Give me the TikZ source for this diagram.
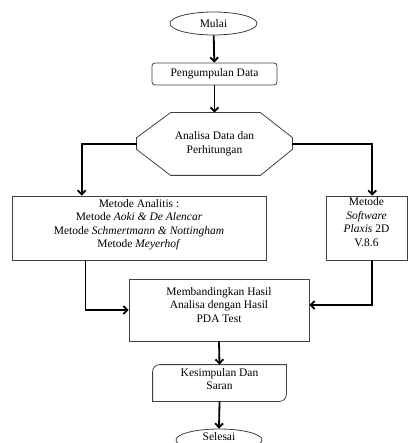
\documentclass[tikz,border=0pt]{standalone}
\usepackage{fontspec}
\setmainfont{Liberation Serif}
\usetikzlibrary{calc,shapes.geometric,arrows.meta}
\begin{document}
\begin{tikzpicture}[x=1pt,y=-1pt]
\tikzstyle{myarrow}=[line width=1.8pt,draw=black,-{Straight Barb[length=4pt,width=8pt]}];
\tikzstyle{garis}=[draw=black!75,line width=0.8pt];
\tikzstyle{kotak}=[garis,align=center,inner sep=0pt,font=\fontsize{11.5}{13.5}\selectfont];
\tikzstyle{elips}=[kotak,ellipse];

\useasboundingbox (0,0) rectangle (408,443);
\clip (0,0) rectangle (408,443);

\node[elips,minimum width=87,minimum height=23] (mulai) at (213.5,23.5) {Mulai};
\node[kotak,rounded corners=3pt,minimum width=125,minimum height=22] (kumpul) at (214.5,74) {Pengumpulan Data};

% segi delapan
\node[kotak,draw=none,minimum width=155,minimum height=62] (analisa) at (214.5,144) {Analisa Data dan\\Perhitungan};
\draw[garis] ([xshift=34pt]analisa.north west) -- ([xshift=-32pt]analisa.north east)
  -- ([yshift=-25pt]analisa.north east) -- ([yshift=26pt]analisa.south east)
  -- ([xshift=-32pt]analisa.south east) -- ([xshift=34pt]analisa.south west)
  -- ([yshift=26pt]analisa.south west) -- ([yshift=-25pt]analisa.north west) -- cycle;

\node[kotak,minimum width=254,minimum height=64] (analitis) at (139,228)
  {Metode Analitis :\\Metode \textit{Aoki \& De Alencar}\\Metode \textit{Schmertmann \& Nottingham}\\Metode \textit{Meyerhof}\\[-5pt]~};
\node[kotak,minimum width=81,minimum height=64] (software) at (366.5,228)
  {Metode\\\textit{Software}\\\textit{Plaxis} 2D\\V.8.6\\[-2pt]~};

\node[kotak,minimum width=180,minimum height=62] (banding) at (219,310)
  {Membandingkan Hasil\\Analisa dengan Hasil\\PDA Test\\[-3pt]~};

\node[kotak,draw=none,minimum width=133,minimum height=36] (simpul) at (219.5,383)
  {Kesimpulan Dan\\Saran\\[-6pt]~};
\draw[garis] (simpul.south west) -- (simpul.west) [rounded corners=7pt] -- (simpul.north west)
  -- (simpul.north) [sharp corners] -- (simpul.north east) -- (simpul.east)
  [rounded corners=7pt] -- (simpul.south east) -- (simpul.south) [sharp corners] -- cycle;

\node[elips,minimum width=86,minimum height=22] (selesai) at (219,440) {Selesai\\[-7pt]~};

% panah
\draw[myarrow] (mulai) -- (kumpul);
\draw[myarrow] (kumpul) -- (analisa.north);
\draw[myarrow] (analisa.west) -| ($(analitis.north west)!0.275!(analitis.north east)$);
\draw[myarrow] (analisa.east) -| ($(software.north west)!0.57!(software.north east)$);
\draw[myarrow] ($(analitis.south west)!0.29!(analitis.south east)$) |- (banding.west);
\draw[myarrow] ($(software.south west)!0.57!(software.south east)$) |- ([yshift=5pt]banding.east);
\draw[myarrow] (banding.south) -- (simpul.north);
\draw[myarrow] (simpul.south) -- (selesai.north);
\end{tikzpicture}
\end{document}
